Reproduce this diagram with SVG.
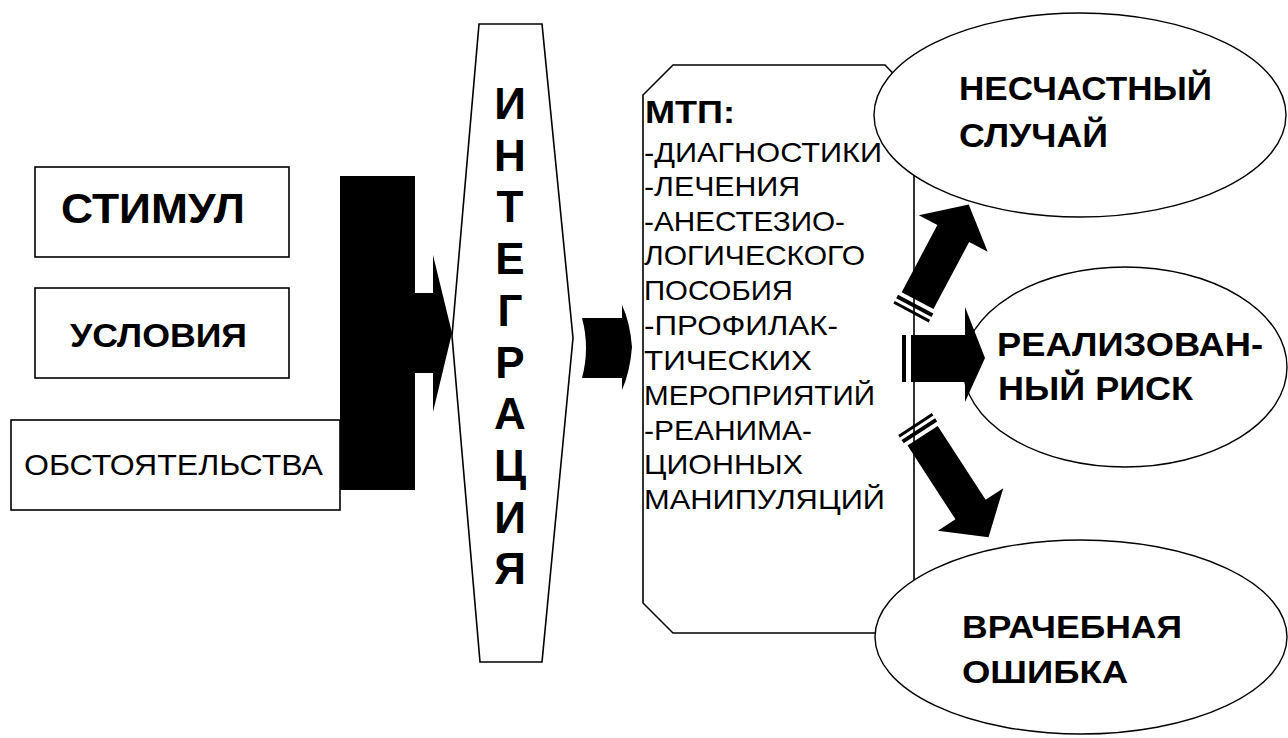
<svg xmlns="http://www.w3.org/2000/svg" width="1288" height="738" viewBox="0 0 1288 738">
<style>
.box{fill:#fff;stroke:#000;stroke-width:1.6}
.ell{fill:#fff;stroke:#000;stroke-width:1.4}
.blk{fill:#000;stroke:none}
.b{font-family:"Liberation Sans",Arial,sans-serif;font-weight:bold;fill:#000}
.r{font-family:"Liberation Sans",Arial,sans-serif;fill:#000}
</style>
<rect width="1288" height="738" fill="#fff"/>
<g id="stimul">
<rect class="box" x="35" y="167" width="254" height="90"/>
<text class="b" x="61" y="223" font-size="43" textLength="184" lengthAdjust="spacingAndGlyphs">СТИМУЛ</text>
</g>
<g id="usloviya">
<rect class="box" x="35" y="288" width="254" height="90"/>
<text class="b" x="70" y="347" font-size="33" textLength="177" lengthAdjust="spacingAndGlyphs">УСЛОВИЯ</text>
</g>
<g id="obstoyatelstva">
<rect class="box" x="11" y="420" width="329" height="90"/>
<text class="r" x="24" y="475" font-size="30" textLength="299" lengthAdjust="spacingAndGlyphs">ОБСТОЯТЕЛЬСТВА</text>
</g>
<g id="connectors">
<g id="big-arrow">
<rect class="blk" x="340" y="176" width="75" height="314"/>
<rect class="blk" x="414" y="293" width="20" height="80"/>
<polygon class="blk" points="433,255 452,333 433,412"/>
</g>
</g>
<g id="integraciya">
<polygon class="box" points="479,24 542,24 573,338 542,662 480,662 452,336" stroke-width="2"/>
<g class="b" font-size="44" text-anchor="middle">
<text x="510" y="119">И</text>
<text x="510" y="171">Н</text>
<text x="510" y="222">Т</text>
<text x="510" y="274">Е</text>
<text x="510" y="326">Г</text>
<text x="510" y="378">Р</text>
<text x="510" y="429">А</text>
<text x="510" y="481">Ц</text>
<text x="510" y="533">И</text>
<text x="510" y="584">Я</text>
</g>
</g>
<g id="small-arrow">
<path class="blk" d="M582,318 L622,318 L622,305 Q630,322 632,347 Q630,372 622,390 L622,378 L582,378 Q590,348 582,318 Z"/>
</g>
<g id="mtp">
<polygon class="box" points="673,65 885,65 914,95 914,603 885,633 673,633 643,603 643,95"/>
<text class="b" x="645" y="123" font-size="31" textLength="90" lengthAdjust="spacingAndGlyphs">МТП:</text>
<g class="r" font-size="28">
<text x="644" y="162" textLength="238" lengthAdjust="spacingAndGlyphs">-ДИАГНОСТИКИ</text>
<text x="644" y="196" textLength="156" lengthAdjust="spacingAndGlyphs">-ЛЕЧЕНИЯ</text>
<text x="644" y="231" textLength="201" lengthAdjust="spacingAndGlyphs">-АНЕСТЕЗИО-</text>
<text x="644" y="265" textLength="221" lengthAdjust="spacingAndGlyphs">ЛОГИЧЕСКОГО</text>
<text x="644" y="300" textLength="149" lengthAdjust="spacingAndGlyphs">ПОСОБИЯ</text>
<text x="644" y="335" textLength="194" lengthAdjust="spacingAndGlyphs">-ПРОФИЛАК-</text>
<text x="644" y="370" textLength="168" lengthAdjust="spacingAndGlyphs">ТИЧЕСКИХ</text>
<text x="644" y="405" textLength="231" lengthAdjust="spacingAndGlyphs">МЕРОПРИЯТИЙ</text>
<text x="644" y="440" textLength="168" lengthAdjust="spacingAndGlyphs">-РЕАНИМА-</text>
<text x="644" y="474" textLength="159" lengthAdjust="spacingAndGlyphs">ЦИОННЫХ</text>
<text x="644" y="509" textLength="241" lengthAdjust="spacingAndGlyphs">МАНИПУЛЯЦИЙ</text>
</g>
</g>
<g id="neschastny">
<ellipse class="ell" cx="1080" cy="115" rx="206" ry="102"/>
<text class="b" x="959" y="100" font-size="33" textLength="253" lengthAdjust="spacingAndGlyphs">НЕСЧАСТНЫЙ</text>
<text class="b" x="959" y="147" font-size="33" textLength="149" lengthAdjust="spacingAndGlyphs">СЛУЧАЙ</text>
</g>
<g id="realizovanny">
<ellipse class="ell" cx="1125" cy="367" rx="162" ry="100"/>
<text class="b" x="997" y="356" font-size="33" textLength="266" lengthAdjust="spacingAndGlyphs">РЕАЛИЗОВАН-</text>
<text class="b" x="998" y="400" font-size="33" textLength="195" lengthAdjust="spacingAndGlyphs">НЫЙ РИСК</text>
</g>
<g id="vrachebnaya">
<ellipse class="ell" cx="1081" cy="637" rx="206" ry="97"/>
<text class="b" x="962" y="638" font-size="32" textLength="220" lengthAdjust="spacingAndGlyphs">ВРАЧЕБНАЯ</text>
<text class="b" x="962" y="683" font-size="32" textLength="166" lengthAdjust="spacingAndGlyphs">ОШИБКА</text>
</g>
<g id="connectors-right">
<g transform="translate(911,313) rotate(-62)">
<path class="blk" d="M14,-18 L90,-18 L90,-39 L123,0 L90,39 L90,18 L14,18 Z"/>
<rect class="blk" x="0" y="-20" width="3" height="40"/>
<rect class="blk" x="6" y="-20" width="4" height="40"/>
</g>
<g>
<rect class="blk" x="902" y="335" width="4" height="47"/>
<rect class="blk" x="911" y="335" width="55" height="47"/>
<polygon class="blk" points="965,307 985,358 965,402"/>
</g>
<g transform="translate(915,424) rotate(57)">
<path class="blk" d="M14,-18 L102,-18 L102,-39 L135,0 L102,39 L102,18 L14,18 Z"/>
<rect class="blk" x="0" y="-20" width="3" height="40"/>
<rect class="blk" x="6" y="-20" width="4" height="40"/>
</g>
</g>
</svg>
